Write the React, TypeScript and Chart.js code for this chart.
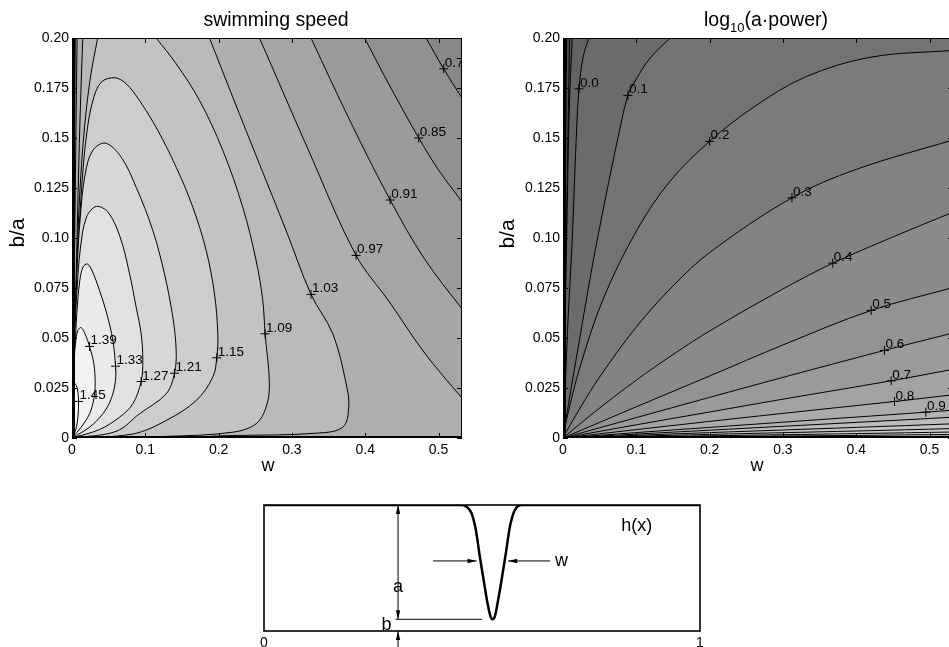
import React, { useEffect, useRef } from 'react';
import { Chart, registerables } from 'chart.js';

Chart.register(...registerables);

type Pt = [number, number];
const FONT = '"Liberation Sans", Arial, Helvetica, sans-serif';

/* ---------- shared axes of the two contour panels ---------- */
const W_MAX = 0.532;
const V_MAX = 0.2;
const xTickValues = [0, 0.1, 0.2, 0.3, 0.4, 0.5];
const xTickLabels = ['0', '0.1', '0.2', '0.3', '0.4', '0.5'];
const yTickValues = [0, 0.025, 0.05, 0.075, 0.1, 0.125, 0.15, 0.175, 0.2];
const yTickLabels = ['0', '0.025', '0.05', '0.075', '0.10', '0.125', '0.15', '0.175', '0.20'];

/* ---------- swimming speed contours (w, b/a) ---------- */
const speedLevels = [0.79, 0.85, 0.91, 0.97, 1.03, 1.09, 1.15, 1.21, 1.27, 1.33, 1.39, 1.45];
const speedShades = ['#919191', '#9b9b9b', '#a5a5a5', '#afafaf', '#b9b9b9', '#c3c3c3', '#cdcdcd', '#d7d7d7', '#e1e1e1', '#eaeaea', '#f2f2f2', '#f8f8f8'];
const speedShadeBelow = '#878787';

const speed079Left: Pt[] = [[0.0022, 0.215], [0.0018, 0.2], [0.0012, 0.12], [0.0006, 0.05], [0, 0]];
const speed079Right: Pt[] = [[0.56, 0.155], [0.532, 0.17], [0.507, 0.1846], [0.483, 0.2], [0.465, 0.212]];
const speed085Left: Pt[] = [[0.0037, 0.215], [0.003, 0.2], [0.002, 0.12], [0.001, 0.05], [0, 0]];
const speed085Right: Pt[] = [[0.56, 0.103], [0.532, 0.118], [0.5, 0.134], [0.473, 0.15], [0.435, 0.175], [0.399, 0.2], [0.383, 0.211]];
const speed091Left: Pt[] = [[0.0055, 0.215], [0.0045, 0.2], [0.003, 0.12], [0.0015, 0.05], [0, 0]];
const speed091Right: Pt[] = [[0.56, 0.052], [0.532, 0.0646], [0.48, 0.09], [0.434, 0.119], [0.38, 0.158], [0.326, 0.2], [0.311, 0.212]];
const speed097Left: Pt[] = [[0.0085, 0.215], [0.007, 0.2], [0.005, 0.14], [0.003, 0.08], [0.0015, 0.035], [0, 0]];
const speed097Right: Pt[] = [[0.56, 0.009], [0.532, 0.02], [0.48, 0.043], [0.433, 0.068], [0.3875, 0.0913], [0.32, 0.146], [0.2557, 0.2], [0.241, 0.212]];
const speed103: Pt[] = [[0.017, 0.215], [0.0148, 0.2], [0.011, 0.16], [0.0075, 0.11], [0.0045, 0.06], [0.002, 0.02], [0, 0],
  [0.219, 0.00125], [0.333, 0.0024], [0.3693, 0.0054], [0.3775, 0.0154], [0.374, 0.0271], [0.3557, 0.0521], [0.326, 0.0718],
  [0.292, 0.1038], [0.2557, 0.137], [0.2193, 0.1704], [0.1875, 0.2], [0.174, 0.212]];
const speed109: Pt[] = [[0.041, 0.212], [0.035, 0.2], [0.025, 0.18], [0.017, 0.155], [0.011, 0.125], [0.007, 0.09], [0.004, 0.05], [0.002, 0.02], [0, 0],
  [0.128, 0.0008], [0.2193, 0.0029], [0.2511, 0.0071], [0.2648, 0.0154], [0.2693, 0.0271], [0.2634, 0.0521], [0.2602, 0.0688],
  [0.2511, 0.0888], [0.2329, 0.1154], [0.2057, 0.1438], [0.1739, 0.1688], [0.1421, 0.1871], [0.1148, 0.2], [0.098, 0.208]];
const speed115: Pt[] = [[0, 0], [0.0827, 0.002], [0.1284, 0.00875], [0.1694, 0.01875], [0.192, 0.0304], [0.1975, 0.0401], [0.1989, 0.0521],
  [0.1943, 0.0721], [0.183, 0.0938], [0.1648, 0.1154], [0.1421, 0.1354], [0.117, 0.1538], [0.092, 0.1688], [0.0739, 0.1771],
  [0.0586, 0.1801], [0.0398, 0.1779], [0.028, 0.168], [0.02, 0.152], [0.0135, 0.127], [0.0085, 0.094], [0.005, 0.055], [0.0025, 0.025], [0.0008, 0.01]];
const speed121: Pt[] = [[0, 0], [0.06, 0.0033], [0.092, 0.0121], [0.1284, 0.0221], [0.1398, 0.0324], [0.1421, 0.0438], [0.1375, 0.0604],
  [0.1261, 0.0821], [0.1102, 0.1038], [0.0875, 0.1254], [0.0671, 0.1404], [0.0457, 0.1474], [0.0284, 0.1438], [0.018, 0.132],
  [0.0112, 0.11], [0.007, 0.085], [0.004, 0.052], [0.002, 0.025], [0.0006, 0.01]];
const speed127: Pt[] = [[0, 0], [0.0373, 0.0042], [0.0648, 0.0104], [0.0829, 0.0171], [0.0943, 0.02825], [0.0966, 0.0388], [0.0943, 0.0521],
  [0.0875, 0.0654], [0.078, 0.083], [0.066, 0.1], [0.05, 0.1125], [0.0334, 0.1158], [0.0198, 0.1104], [0.0115, 0.095],
  [0.0068, 0.0738], [0.004, 0.0538], [0.002, 0.03], [0.0006, 0.012]];
const speed133: Pt[] = [[0, 0], [0.0239, 0.0054], [0.042, 0.0121], [0.0535, 0.0196], [0.0593, 0.0288], [0.0593, 0.0362], [0.0557, 0.0488],
  [0.0475, 0.0621], [0.0375, 0.0738], [0.0275, 0.0835], [0.021, 0.087], [0.015, 0.0855], [0.0102, 0.0775], [0.0066, 0.062],
  [0.0039, 0.0438], [0.002, 0.025], [0.0005, 0.01]];
const speed139: Pt[] = [[0, 0], [0.0125, 0.0054], [0.0239, 0.0121], [0.0298, 0.0196], [0.0316, 0.0271], [0.0298, 0.0371], [0.0239, 0.0458],
  [0.0184, 0.0515], [0.0125, 0.0552], [0.008, 0.0538], [0.0048, 0.0475], [0.003, 0.0388], [0.0015, 0.025], [0.0004, 0.01]];
const speed145: Pt[] = [[0, 0], [0.005, 0.004], [0.0082, 0.011], [0.0089, 0.0183], [0.0075, 0.0245], [0.0045, 0.027], [0.002, 0.025],
  [0.0006, 0.017], [0, 0.008]];

const speedLabelW = [0.0089, 0.0239, 0.0593, 0.0943, 0.1398, 0.1975, 0.2634, 0.326, 0.3875, 0.434, 0.473, 0.507];
const speedLabelV = [0.0183, 0.0458, 0.0359, 0.02825, 0.0324, 0.0401, 0.0521, 0.0718, 0.0913, 0.119, 0.15, 0.1846];
const speedLabelText = ['1.45', '1.39', '1.33', '1.27', '1.21', '1.15', '1.09', '1.03', '0.97', '0.91', '0.85', '0.79'];

/* ---------- log10(a*power) contours (w, b/a) ---------- */
const powerLevels = [-0.4, -0.3, -0.2, -0.1, 0, 0.1, 0.2, 0.3, 0.4, 0.5, 0.6, 0.7, 0.8, 0.9, 1.0, 1.1, 1.2, 1.3, 1.4, 1.5];
const powerShades = ['#454545', '#4f4f4f', '#595959', '#636363', '#6b6b6b', '#737373', '#7b7b7b', '#838383', '#8b8b8b', '#939393',
  '#9b9b9b', '#a3a3a3', '#ababab', '#b3b3b3', '#bbbbbb', '#c3c3c3', '#cbcbcb', '#d3d3d3', '#dbdbdb', '#e3e3e3'];
const powerShadeBelow = '#3c3c3c';

const powM04: Pt[] = [[0, 0], [0.0008, 0.05], [0.0016, 0.12], [0.0025, 0.2], [0.0028, 0.215]];
const powM03: Pt[] = [[0, 0], [0.0015, 0.05], [0.003, 0.12], [0.005, 0.2], [0.0056, 0.215]];
const powM02: Pt[] = [[0, 0], [0.0025, 0.05], [0.0055, 0.12], [0.009, 0.2], [0.01, 0.215]];
const powM01: Pt[] = [[0, 0], [0.003, 0.06], [0.006, 0.12], [0.009, 0.17], [0.0127, 0.2], [0.0145, 0.215]];
const powP00: Pt[] = [[0, 0], [0.003, 0.025], [0.007, 0.06], [0.0127, 0.1], [0.0175, 0.145], [0.0218, 0.1746], [0.0275, 0.1905], [0.0355, 0.2], [0.045, 0.208]];
const powP01: Pt[] = [[0, 0], [0.008, 0.018], [0.022, 0.048], [0.04, 0.086], [0.058, 0.12], [0.075, 0.15], [0.0886, 0.1713], [0.1, 0.1795], [0.119, 0.19], [0.1463, 0.2], [0.17, 0.207]];
const powP02: Pt[] = [[0, 0], [0.006, 0.011], [0.0236, 0.036], [0.0554, 0.07], [0.1009, 0.104], [0.1463, 0.1285], [0.2, 0.1483], [0.26, 0.1654], [0.33, 0.1804], [0.42, 0.1904], [0.532, 0.1938], [0.56, 0.1945]];
const powP03: Pt[] = [[0, 0], [0.01, 0.0066], [0.025, 0.016], [0.05, 0.0305], [0.1, 0.0555], [0.15, 0.076], [0.2, 0.0927], [0.3123, 0.1201], [0.4, 0.1343], [0.532, 0.149], [0.56, 0.152]];
const powP04: Pt[] = [[0, 0], [0.025, 0.0076], [0.05, 0.015], [0.1, 0.0289], [0.15, 0.0417], [0.2, 0.0535], [0.3, 0.0745], [0.368, 0.0874], [0.45, 0.1005], [0.532, 0.1129], [0.56, 0.117]];
const powP05: Pt[] = [[0, 0], [0.05, 0.0078], [0.1, 0.0156], [0.2, 0.031], [0.3, 0.0465], [0.4204, 0.0638], [0.532, 0.0752], [0.56, 0.078]];
const powP06: Pt[] = [[0, 0], [0.1, 0.0102], [0.2, 0.0203], [0.3, 0.0303], [0.4385, 0.0438], [0.532, 0.0525], [0.56, 0.055]];
const powP07: Pt[] = [[0, 0], [0.1, 0.0066], [0.2, 0.013], [0.3, 0.0194], [0.4477, 0.0286], [0.532, 0.0343], [0.56, 0.036]];
const powP08: Pt[] = [[0, 0], [0.1, 0.0042], [0.2, 0.0083], [0.3, 0.0123], [0.4522, 0.01825], [0.532, 0.0216], [0.56, 0.0228]];
const powP09: Pt[] = [[0, 0], [0.1, 0.0027], [0.2, 0.0053], [0.3, 0.0079], [0.495, 0.0129], [0.532, 0.0139], [0.56, 0.0146]];
const powP10: Pt[] = [[0, 0], [0.2, 0.0039], [0.4, 0.0078], [0.532, 0.0104], [0.56, 0.011]];
const powP11: Pt[] = [[0, 0], [0.2, 0.0027], [0.4, 0.0053], [0.532, 0.0071], [0.56, 0.0075]];
const powP12: Pt[] = [[0, 0], [0.2, 0.0018], [0.4, 0.0035], [0.532, 0.0047], [0.56, 0.005]];
const powP13: Pt[] = [[0, 0], [0.2, 0.0011], [0.4, 0.0022], [0.532, 0.003], [0.56, 0.0032]];
const powP14: Pt[] = [[0, 0], [0.2, 0.0007], [0.4, 0.0013], [0.532, 0.0018], [0.56, 0.0019]];
const powP15: Pt[] = [[0, 0], [0.2, 0.0003], [0.4, 0.0006], [0.532, 0.0009], [0.56, 0.001]];

const powerLabelW = [0.0218, 0.0886, 0.2, 0.3123, 0.368, 0.4204, 0.4385, 0.4477, 0.4522, 0.495];
const powerLabelV = [0.1746, 0.1713, 0.1483, 0.1201, 0.0874, 0.0638, 0.0438, 0.0286, 0.01825, 0.0129];
const powerLabelText = ['0.0', '0.1', '0.2', '0.3', '0.4', '0.5', '0.6', '0.7', '0.8', '0.9'];

/* ---------- h(x) sketch ---------- */
const hX = [0, 0.449, 0.4645, 0.476, 0.486, 0.495, 0.505, 0.5127, 0.5196, 0.524, 0.5295, 0.537, 0.5449, 0.5547, 0.564, 0.5754, 0.5908, 1];
const hY = [1, 1, 0.987, 0.934, 0.8, 0.59, 0.378, 0.22, 0.114, 0.093, 0.116, 0.246, 0.405, 0.617, 0.828, 0.96, 1, 1];
const sketchTickValues = [0, 1];
const sketchTickLabels = ['0', '1'];
const dimAShaft: Pt[] = [[0.3075, 0.093], [0.3075, 1]];
const dimBLine: Pt[] = [[0.3016, 0.093], [0.5, 0.093]];
const dimBArrow: Pt[] = [[0.3075, -0.13], [0.3075, 0]];
const wArrowLeft: Pt[] = [[0.388, 0.556], [0.4875, 0.556]];
const wArrowRight: Pt[] = [[0.656, 0.556], [0.56, 0.556]];
const sketchText = ['a', 'b', 'w', 'h(x)'];
const sketchTextX = [0.3075, 0.281, 0.6826, 0.855];
const sketchTextY = [0.312, 0.008, 0.516, 0.794];

/* ---------- polygon closing helpers (outside of the frame) ---------- */
const OUT_TOP = 0.3;
const OUT_BOTTOM = -0.03;
const OUT_RIGHT = 0.62;
const OUT_LEFT = -0.03;

const closeLoop = (pts: Pt[]): Pt[] => [...pts, [OUT_LEFT, pts[pts.length - 1][1]], [OUT_LEFT, OUT_BOTTOM]];
const closeOverTop = (pts: Pt[]): Pt[] => [...pts, [pts[pts.length - 1][0], OUT_TOP], [pts[0][0], OUT_TOP]];
const closeOuter = (left: Pt[], right: Pt[]): Pt[] => [
  ...left, [0.3, OUT_BOTTOM], [OUT_RIGHT, OUT_BOTTOM], [OUT_RIGHT, right[0][1]], ...right,
  [right[right.length - 1][0], OUT_TOP], [left[0][0], OUT_TOP]];
const closeBelow = (line: Pt[]): Pt[] => {
  const last = line[line.length - 1];
  const corner: Pt[] = last[1] > V_MAX ? [[last[0], OUT_TOP], [0.7, OUT_TOP]] : [[0.7, last[1]]];
  return [...line, ...corner, [0.7, -0.05], [-0.05, -0.05]];
};

const speedPolys: Pt[][] = [
  closeOuter(speed079Left, speed079Right),
  closeOuter(speed085Left, speed085Right),
  closeOuter(speed091Left, speed091Right),
  closeOuter(speed097Left, speed097Right),
  closeOverTop(speed103),
  closeOverTop(speed109),
  closeLoop(speed115),
  closeLoop(speed121),
  closeLoop(speed127),
  closeLoop(speed133),
  closeLoop(speed139),
  closeLoop(speed145),
];

const powerPolys: Pt[][] = [powM04, powM03, powM02, powM01, powP00, powP01, powP02, powP03, powP04, powP05, powP06,
  powP07, powP08, powP09, powP10, powP11, powP12, powP13, powP14, powP15].map(closeBelow);

const toXY = (pts: Pt[]) => pts.map(([x, y]) => ({ x, y }));

type ContourSpec = {
  levels: number[];
  polys: Pt[][];
  shades: string[];
  below: string;
  labelW: number[];
  labelV: number[];
  labelText: string[];
  yAxisWidth: number;
  padRight: number;
  xTitleX: number;
  yTitleX: number;
  yTitleY: number;
  drawTitle: (ctx: CanvasRenderingContext2D) => void;
};

function makeContourChart(canvas: HTMLCanvasElement, spec: ContourSpec): Chart {
  const n = spec.polys.length;
  const datasets: any[] = spec.polys.map((poly, i) => ({
    label: String(spec.levels[i]),
    data: toXY(poly),
    borderColor: '#000',
    borderWidth: 1,
    backgroundColor: spec.shades[i],
    fill: 'shape',
    pointRadius: 0,
    pointHoverRadius: 0,
    tension: 0.35,
    capBezierPoints: false,
    order: n - i,
  }));
  datasets.push({
    label: 'labels',
    data: spec.labelW.map((w, i) => ({ x: w, y: spec.labelV[i] })),
    showLine: false,
    pointStyle: 'cross',
    pointRadius: 4.5,
    pointHoverRadius: 4.5,
    pointBorderColor: '#000',
    pointBackgroundColor: '#000',
    pointBorderWidth: 1,
    borderColor: '#000',
    fill: false,
    order: 0,
  });

  const decor = {
    id: 'contourDecor',
    beforeDatasetsDraw(chart: any) {
      const { ctx, chartArea: a } = chart;
      ctx.save();
      ctx.fillStyle = spec.below;
      ctx.fillRect(a.left, a.top, a.right - a.left, a.bottom - a.top);
      ctx.restore();
    },
    afterDraw(chart: any) {
      const { ctx, chartArea: a, scales } = chart;
      const xs = scales.x;
      const ys = scales.y;
      // contour labels
      ctx.save();
      ctx.beginPath();
      ctx.rect(a.left, a.top, a.right - a.left, a.bottom - a.top);
      ctx.clip();
      ctx.font = `13.5px ${FONT}`;
      ctx.fillStyle = '#000';
      ctx.textAlign = 'left';
      ctx.textBaseline = 'alphabetic';
      spec.labelText.forEach((t, i) => {
        ctx.fillText(t, xs.getPixelForValue(spec.labelW[i]) + 1, ys.getPixelForValue(spec.labelV[i]) - 2);
      });
      ctx.restore();
      // frame + inward ticks
      ctx.save();
      ctx.fillStyle = '#000';
      ctx.fillRect(a.left, a.top, 3, a.bottom - a.top);
      ctx.fillRect(a.left, a.bottom - 2, a.right - a.left, 2);
      ctx.strokeStyle = '#000';
      ctx.lineWidth = 1;
      ctx.strokeRect(a.left + 0.5, a.top + 0.5, a.right - a.left - 1, a.bottom - a.top - 1);
      ctx.beginPath();
      xTickValues.forEach((v) => {
        const px = Math.round(xs.getPixelForValue(v)) + 0.5;
        ctx.moveTo(px, a.bottom);
        ctx.lineTo(px, a.bottom - 5);
        ctx.moveTo(px, a.top);
        ctx.lineTo(px, a.top + 5);
      });
      yTickValues.forEach((v) => {
        const py = Math.round(ys.getPixelForValue(v)) + 0.5;
        ctx.moveTo(a.left, py);
        ctx.lineTo(a.left + 5, py);
        ctx.moveTo(a.right, py);
        ctx.lineTo(a.right - 5, py);
      });
      ctx.stroke();
      // titles
      spec.drawTitle(ctx);
      ctx.font = `18px ${FONT}`;
      ctx.textAlign = 'center';
      ctx.textBaseline = 'alphabetic';
      ctx.fillText('w', spec.xTitleX, 471);
      ctx.translate(spec.yTitleX, spec.yTitleY);
      ctx.rotate(-Math.PI / 2);
      ctx.font = `21px ${FONT}`;
      ctx.textBaseline = 'middle';
      ctx.fillText('b/a', 0, 0);
      ctx.restore();
    },
  };

  return new Chart(canvas, {
    type: 'line',
    data: { datasets },
    options: {
      responsive: false,
      animation: false,
      devicePixelRatio: 1,
      events: [],
      layout: { padding: { top: 38, right: spec.padRight, left: 0, bottom: 0 } },
      plugins: { legend: { display: false }, tooltip: { enabled: false }, title: { display: false } },
      scales: {
        x: {
          type: 'linear',
          min: 0,
          max: W_MAX,
          grid: { display: false, drawTicks: false },
          border: { display: false },
          afterBuildTicks: (s: any) => { s.ticks = xTickValues.map((value) => ({ value })); },
          afterFit: (s: any) => { s.height = 42; },
          ticks: {
            callback: (_v: any, i: number) => xTickLabels[i],
            font: { family: FONT, size: 14 },
            color: '#000',
            padding: 4,
            maxRotation: 0,
            minRotation: 0,
            autoSkip: false,
          },
        },
        y: {
          type: 'linear',
          min: 0,
          max: V_MAX,
          grid: { display: false, drawTicks: false },
          border: { display: false },
          afterBuildTicks: (s: any) => { s.ticks = yTickValues.map((value) => ({ value })); },
          afterFit: (s: any) => { s.width = spec.yAxisWidth; },
          ticks: {
            callback: (_v: any, i: number) => yTickLabels[i],
            font: { family: FONT, size: 14 },
            color: '#000',
            padding: 3,
            autoSkip: false,
          },
        },
      },
    } as any,
    plugins: [decor],
  });
}

function makeSketchChart(canvas: HTMLCanvasElement): Chart {
  const thin = (pts: Pt[], extra: any = {}) => ({
    data: toXY(pts), borderColor: '#000', borderWidth: 1, pointRadius: 0, pointHoverRadius: 0, fill: false, ...extra,
  });
  const heads: { tip: Pt; from: Pt }[] = [
    { tip: dimAShaft[1], from: dimAShaft[0] },
    { tip: dimAShaft[0], from: dimAShaft[1] },
    { tip: dimBArrow[1], from: dimBArrow[0] },
    { tip: wArrowLeft[1], from: wArrowLeft[0] },
    { tip: wArrowRight[1], from: wArrowRight[0] },
  ];
  const decor = {
    id: 'sketchDecor',
    afterDatasetsDraw(chart: any) {
      const { ctx, chartArea: a, scales } = chart;
      const xs = scales.x;
      const ys = scales.y;
      ctx.save();
      ctx.strokeStyle = '#000';
      ctx.lineWidth = 1.6;
      ctx.strokeRect(a.left, a.top, a.right - a.left, a.bottom - a.top);
      ctx.fillStyle = '#000';
      heads.forEach(({ tip, from }) => {
        const tx = xs.getPixelForValue(tip[0]);
        const ty = ys.getPixelForValue(tip[1]);
        const fx = xs.getPixelForValue(from[0]);
        const fy = ys.getPixelForValue(from[1]);
        const len = Math.hypot(tx - fx, ty - fy);
        const ux = (tx - fx) / len;
        const uy = (ty - fy) / len;
        const L = 9;
        const H = 2.2;
        ctx.beginPath();
        ctx.moveTo(tx, ty);
        ctx.lineTo(tx - ux * L - uy * H, ty - uy * L + ux * H);
        ctx.lineTo(tx - ux * L + uy * H, ty - uy * L - ux * H);
        ctx.closePath();
        ctx.fill();
      });
      ctx.font = `18px ${FONT}`;
      ctx.textAlign = 'center';
      ctx.textBaseline = 'alphabetic';
      sketchText.forEach((t, i) => {
        ctx.fillText(t, xs.getPixelForValue(sketchTextX[i]), ys.getPixelForValue(sketchTextY[i]));
      });
      ctx.restore();
    },
  };
  return new Chart(canvas, {
    type: 'line',
    data: {
      datasets: [
        { data: hX.map((x, i) => ({ x, y: hY[i] })), borderColor: '#000', borderWidth: 2.5, pointRadius: 0, pointHoverRadius: 0, cubicInterpolationMode: 'monotone', fill: false },
        thin(dimAShaft),
        thin(dimBLine),
        thin(dimBArrow, { clip: false }),
        thin(wArrowLeft),
        thin(wArrowRight),
      ],
    },
    options: {
      responsive: false,
      animation: false,
      devicePixelRatio: 1,
      events: [],
      layout: { padding: { top: 25, right: 30, left: 34, bottom: 0 } },
      plugins: { legend: { display: false }, tooltip: { enabled: false }, title: { display: false } },
      scales: {
        x: {
          type: 'linear',
          min: 0,
          max: 1,
          grid: { display: false, drawTicks: false },
          border: { display: false },
          afterBuildTicks: (s: any) => { s.ticks = sketchTickValues.map((value) => ({ value })); },
          afterFit: (s: any) => { s.height = 16; },
          ticks: {
            callback: (_v: any, i: number) => sketchTickLabels[i],
            font: { family: FONT, size: 14 },
            color: '#000',
            padding: 4,
            maxRotation: 0,
            autoSkip: false,
          },
        },
        y: { type: 'linear', min: 0, max: 1, display: false },
      },
    } as any,
    plugins: [decor],
  });
}

export default function App() {
  const leftRef = useRef<HTMLCanvasElement>(null);
  const rightRef = useRef<HTMLCanvasElement>(null);
  const sketchRef = useRef<HTMLCanvasElement>(null);

  useEffect(() => {
    const charts: Chart[] = [];
    if (leftRef.current) {
      charts.push(makeContourChart(leftRef.current, {
        levels: speedLevels,
        polys: speedPolys,
        shades: speedShades,
        below: speedShadeBelow,
        labelW: speedLabelW,
        labelV: speedLabelV,
        labelText: speedLabelText,
        yAxisWidth: 72,
        padRight: 18,
        xTitleX: 268,
        yTitleX: 18,
        yTitleY: 233,
        drawTitle: (ctx) => {
          ctx.font = `19.5px ${FONT}`;
          ctx.textAlign = 'center';
          ctx.textBaseline = 'alphabetic';
          ctx.fillText('swimming speed', 276, 25.5);
        },
      }));
    }
    if (rightRef.current) {
      charts.push(makeContourChart(rightRef.current, {
        levels: powerLevels,
        polys: powerPolys,
        shades: powerShades,
        below: powerShadeBelow,
        labelW: powerLabelW,
        labelV: powerLabelV,
        labelText: powerLabelText,
        yAxisWidth: 83,
        padRight: 7,
        xTitleX: 277,
        yTitleX: 28,
        yTitleY: 234,
        drawTitle: (ctx) => {
          ctx.textAlign = 'left';
          ctx.textBaseline = 'alphabetic';
          ctx.font = `19.5px ${FONT}`;
          const w1 = ctx.measureText('log').width;
          const w3 = ctx.measureText('(a\u00b7power)').width;
          ctx.font = `13px ${FONT}`;
          const w2 = ctx.measureText('10').width;
          const x0 = 286 - (w1 + w2 + w3) / 2;
          ctx.font = `19.5px ${FONT}`;
          ctx.fillText('log', x0, 25.5);
          ctx.font = `13px ${FONT}`;
          ctx.fillText('10', x0 + w1, 32);
          ctx.font = `19.5px ${FONT}`;
          ctx.fillText('(a\u00b7power)', x0 + w1 + w2, 25.5);
        },
      }));
    }
    if (sketchRef.current) charts.push(makeSketchChart(sketchRef.current));
    return () => charts.forEach((c) => c.destroy());
  }, []);

  return (
    <div style={{ position: 'fixed', left: 0, top: 0, width: 949, height: 647, overflow: 'hidden', background: '#fff' }}>
      <canvas ref={leftRef} width={480} height={480} style={{ position: 'absolute', left: 0, top: 0, width: 480, height: 480 }} />
      <canvas ref={rightRef} width={480} height={480} style={{ position: 'absolute', left: 480, top: 0, width: 480, height: 480 }} />
      <canvas ref={sketchRef} width={500} height={167} style={{ position: 'absolute', left: 230, top: 480, width: 500, height: 167 }} />
    </div>
  );
}
